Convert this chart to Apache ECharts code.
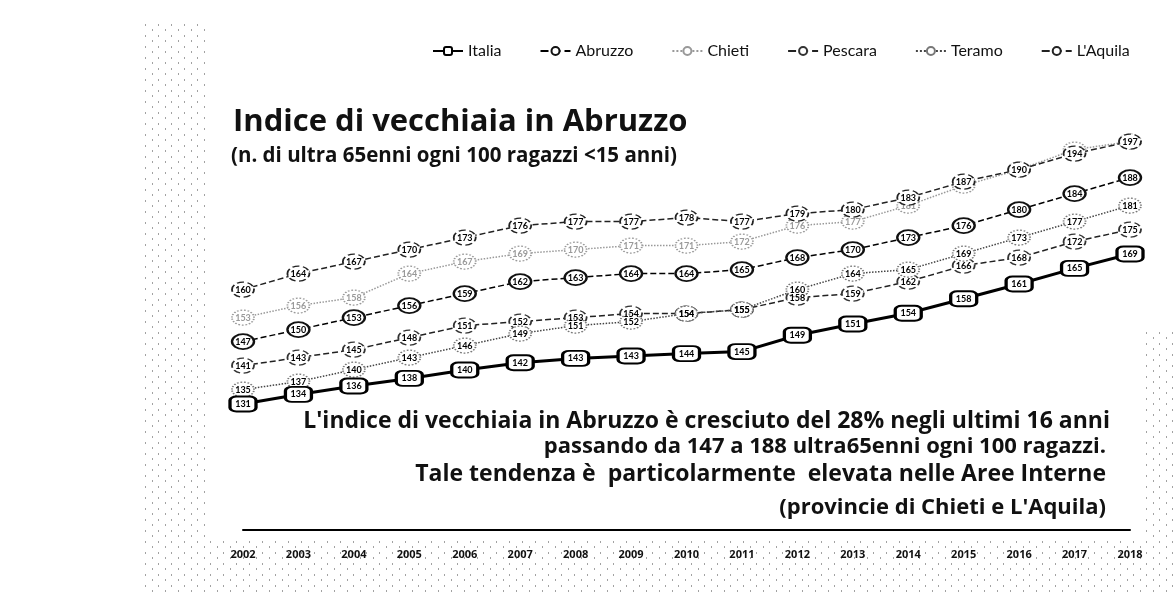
<!DOCTYPE html>
<html>
<head>
<meta charset="utf-8">
<script src="https://cdn.jsdelivr.net/npm/echarts@6/dist/echarts.min.js"></script>
<style>
html,body{margin:0;padding:0;background:#fff;}
#chart{width:1175px;height:596px;}
</style>
</head>
<body>
<div id="chart"></div>
<script>
const years = ['2002','2003','2004','2005','2006','2007','2008','2009','2010','2011','2012','2013','2014','2015','2016','2017','2018'];
const italia   = [131.4,133.8,135.9,137.8,139.9,141.7,142.8,143.4,144.0,144.5,148.6,151.4,154.1,157.7,161.4,165.3,168.9];
const abruzzo  = [147,150,153,156,159,162,163,164,164,165,168,170,173,176,180,184,188];
const chieti   = [153,156,158,164,167,169,170,171,171,172,176,177,181,186,190,195,197];
const pescara  = [141,143,145,148,151,152,153,154,154,155,158,159,162,166,168,172,175];
const teramo   = [135,137,140,143,146,149,151,152,154,155,160,164,165,169,173,177,181];
const laquila  = [160,164,167,170,173,176,177,177,178,177,179,180,183,187,190,194,197];

const titleText = 'Indice di vecchiaia in Abruzzo';
const subtitleText = '(n. di ultra 65enni ogni 100 ragazzi <15 anni)';
const noteLines = [
  "L'indice di vecchiaia in Abruzzo è cresciuto del 28% negli ultimi 16 anni",
  'passando da 147 a 188 ultra65enni ogni 100 ragazzi.',
  'Tale tendenza è  particolarmente  elevata nelle Aree Interne',
  "(provincie di Chieti e L'Aquila)"
];

const FONT = 'Lato, "Open Sans", sans-serif';
const BFONT = '"Open Sans", Lato, sans-serif';
const ELLIPSE = 'path://M0,8 A12,8 0 1,1 24,8 A12,8 0 1,1 0,8 Z';

// stipple texture (scan noise look)
const pc = document.createElement('canvas');
pc.width = 13; pc.height = 11;
const pctx = pc.getContext('2d');
pctx.fillStyle = 'rgba(70,70,70,0.5)';
pctx.fillRect(2, 2, 1, 2);
pctx.fillRect(9, 7, 1, 2);
const stipple = { image: pc, repeat: 'repeat' };

function mk(name, data, o) {
  return {
    name: name, type: 'line', data: data, z: o.z || 2,
    symbol: o.symbol || ELLIPSE,
    symbolSize: o.size || [22, 15],
    lineStyle: { color: o.line, width: o.width || 1.5, type: o.type || 'solid' },
    itemStyle: { color: o.fill || '#fff', borderColor: o.border || '#000', borderWidth: o.bw || 1.5, borderType: o.btype || 'solid' },
    label: {
      show: true, position: 'inside', fontFamily: FONT, fontWeight: 'bold', fontSize: 9,
      color: o.lc || '#000',
      formatter: p => Math.round(p.value)
    },
    emphasis: { disabled: true },
    animation: false
  };
}

const chart = echarts.init(document.getElementById('chart'));
chart.setOption({
  backgroundColor: '#fff',
  animation: false,
  textStyle: { fontFamily: FONT },
  legend: {
    left: 427, top: 38, itemGap: 38, itemWidth: 30, itemHeight: 10,
    textStyle: { fontFamily: FONT, fontSize: 16, color: '#111' },
    data: ['Italia','Abruzzo','Chieti','Pescara','Teramo',"L'Aquila"]
  },
  grid: { left: 243, right: 45, top: 129.6, bottom: 66.4 },
  xAxis: {
    type: 'category', data: years, boundaryGap: false,
    axisLine: { lineStyle: { color: '#000', width: 2 } },
    axisTick: { show: false },
    axisLabel: { fontFamily: BFONT, fontWeight: 'bold', fontSize: 11, color: '#111', margin: 20 },
    splitLine: { show: false }
  },
  yAxis: { type: 'value', min: 100, max: 200, show: false, splitLine: { show: false } },
  series: [
    mk('Italia', italia, { line: '#000', width: 3, symbol: 'roundRect', size: [26, 15], border: '#000', bw: 2.5, fill: '#fff', z: 6 }),
    mk('Abruzzo', abruzzo, { line: '#000', type: 'dashed', border: '#111', bw: 2, z: 5 }),
    mk('Chieti', chieti, { line: '#999', type: 'dotted', border: '#999', btype: 'dotted', lc: '#999', z: 3 }),
    mk('Pescara', pescara, { line: '#222', type: 'dashed', border: '#333', btype: 'dashed', z: 4 }),
    mk('Teramo', teramo, { line: '#444', type: 'dotted', border: '#777', btype: 'dotted', z: 4 }),
    mk("L'Aquila", laquila, { line: '#222', type: 'dashed', border: '#222', btype: 'dashed', lc: '#000', z: 4 })
  ],
  graphic: [
    { type: 'rect', z: -10, silent: true, shape: { x: 145, y: 20, width: 62, height: 576 }, style: { fill: stipple } },
    { type: 'rect', z: -10, silent: true, shape: { x: 207, y: 540, width: 968, height: 56 }, style: { fill: stipple } },
    { type: 'rect', z: -10, silent: true, shape: { x: 1145, y: 330, width: 30, height: 210 }, style: { fill: stipple } },
    { type: 'text', x: 233, y: 122, style: { text: titleText, font: 'bold 31px ' + BFONT, fill: '#111', verticalAlign: 'middle' } },
    { type: 'text', x: 231, y: 156, style: { text: subtitleText, font: 'bold 20.5px ' + BFONT, fill: '#111', verticalAlign: 'middle' } },
    { type: 'text', x: 1110, y: 421, style: { text: noteLines[0], font: 'bold 23px ' + BFONT, fill: '#111', align: 'right', verticalAlign: 'middle' } },
    { type: 'text', x: 1106, y: 447, style: { text: noteLines[1], font: 'bold 22px ' + BFONT, fill: '#111', align: 'right', verticalAlign: 'middle' } },
    { type: 'text', x: 1106, y: 474, style: { text: noteLines[2], font: 'bold 23px ' + BFONT, fill: '#111', align: 'right', verticalAlign: 'middle' } },
    { type: 'text', x: 1106, y: 508, style: { text: noteLines[3], font: 'bold 22px ' + BFONT, fill: '#111', align: 'right', verticalAlign: 'middle' } }
  ]
});
</script>
</body>
</html>
